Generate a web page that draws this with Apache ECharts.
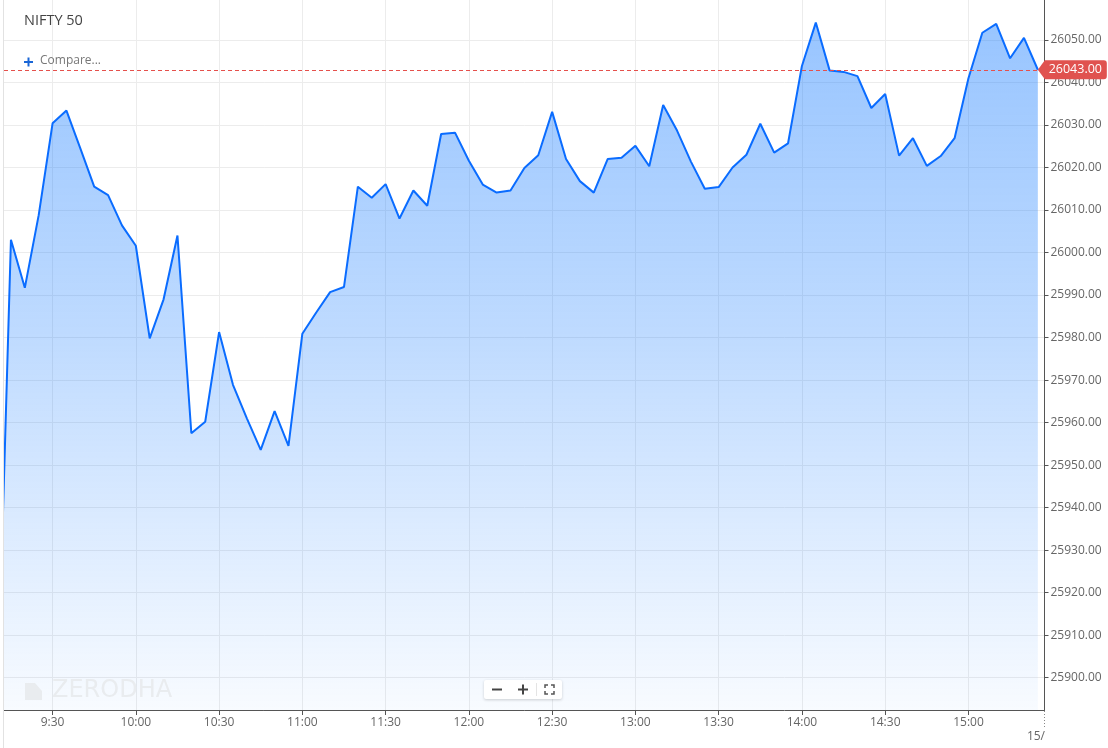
<!DOCTYPE html>
<html><head><meta charset="utf-8">
<script src="https://cdn.jsdelivr.net/npm/echarts@6/dist/echarts.min.js"></script>
<style>html,body{margin:0;padding:0;background:#fff}#c{width:1108px;height:748px}</style>
</head><body><div id="c"></div>
<script>
// ---- data ----
const times = ['9:10','9:15','9:20','9:25','9:30','9:35','9:40','9:45','9:50','9:55',
  '10:00','10:05','10:10','10:15','10:20','10:25','10:30','10:35','10:40','10:45','10:50','10:55',
  '11:00','11:05','11:10','11:15','11:20','11:25','11:30','11:35','11:40','11:45','11:50','11:55',
  '12:00','12:05','12:10','12:15','12:20','12:25','12:30','12:35','12:40','12:45','12:50','12:55',
  '13:00','13:05','13:10','13:15','13:20','13:25','13:30','13:35','13:40','13:45','13:50','13:55',
  '14:00','14:05','14:10','14:15','14:20','14:25','14:30','14:35','14:40','14:45','14:50','14:55',
  '15:00','15:05','15:10','15:15','15:20','15:25'];
const prices = [25891.0,26003.0,25991.7,26008.8,26030.4,26033.4,26024.5,26015.5,26013.5,26006.4,
  26001.6,25979.8,25989.0,26004.0,25957.5,25960.2,25981.3,25968.9,25961.0,25953.6,25962.7,25954.5,
  25980.9,25985.9,25990.7,25991.9,26015.5,26012.9,26016.1,26008.0,26014.6,26011.0,26027.9,26028.2,
  26021.6,26016.0,26014.1,26014.6,26019.9,26022.9,26033.1,26022.0,26016.8,26014.1,26022.0,26022.3,
  26025.1,26020.3,26034.7,26028.7,26021.4,26015.0,26015.4,26020.0,26023.0,26030.3,26023.5,26025.7,
  26043.9,26054.1,26042.8,26042.5,26041.5,26034.0,26037.3,26022.8,26026.9,26020.4,26022.7,26026.9,
  26041.0,26051.7,26053.8,26045.7,26050.5,26043.0];
const xTickLabels = ['9:30','10:00','10:30','11:00','11:30','12:00','12:30','13:00','13:30','14:00','14:30','15:00'];
const yTickValues = [25900,25910,25920,25930,25940,25950,25960,25970,25980,25990,26000,26010,26020,26030,26040,26050];
const lastPrice = 26043.00;
const lastTime = '15:25';
const title = 'NIFTY 50';

// ---- build ----
const toMin = s => { const p = s.split(':').map(Number); return p[0]*60 + p[1]; };
const fmt = m => Math.floor(m/60) + ':' + String(m%60).padStart(2,'0');
const data = times.map((t,i) => [toMin(t), prices[i]]);
const xTicks = xTickLabels.map(toMin);
const FONT = 'Open Sans';

const chart = echarts.init(document.getElementById('c'), null, {renderer:'canvas'});
chart.setOption({
  animation:false,
  grid:{left:4, right:63.5, top:0, bottom:38},
  xAxis:{
    type:'value', min:552.5, max:927.4,
    axisLine:{lineStyle:{color:'#555', width:1}},
    axisTick:{show:true, customValues:xTicks, length:5, lineStyle:{color:'#555'}},
    axisLabel:{customValues:xTicks, formatter:fmt, color:'#666', fontSize:12, fontFamily:FONT, margin:7},
    splitLine:{show:true, lineStyle:{color:'#ececec', width:1}}
  },
  yAxis:{
    type:'value', position:'right', min:25892.39, max:26059.41, scale:true,
    axisLine:{show:true, lineStyle:{color:'#555', width:1}},
    axisTick:{show:true, customValues:yTickValues, length:4, lineStyle:{color:'#555'}},
    axisLabel:{customValues:yTickValues, formatter:v => v.toFixed(2), color:'#666', fontSize:12, fontFamily:FONT, margin:6},
    splitLine:{show:true, lineStyle:{color:'#ececec', width:1}}
  },
  series:[{
    type:'line', data:data, symbol:'none', clip:true, silent:true,
    lineStyle:{color:'#0a6cff', width:2},
    areaStyle:{color:new echarts.graphic.LinearGradient(0,0,0,1,[
      {offset:0, color:'rgba(25,125,255,0.64)'},
      {offset:0.45, color:'rgba(25,125,255,0.40)'},
      {offset:1, color:'rgba(25,125,255,0.04)'}
    ])},
    markLine:{
      silent:true, symbol:['none','none'], animation:false,
      label:{show:false},
      lineStyle:{color:'#e5504c', type:[4,3], width:1},
      data:[{yAxis:lastPrice}]
    },
    markPoint:{
      silent:true, animation:false,
      symbol:'path://M0,9 L7,0 L66,0 Q69,0 69,3 L69,15 Q69,18 66,18 L7,18 Z',
      symbolSize:[69,19], symbolKeepAspect:false, symbolOffset:['50%',0],
      itemStyle:{color:'#e0524f'},
      label:{show:true, position:'inside', offset:[3,0], formatter:lastPrice.toFixed(2),
        color:'#fff', fontSize:12.5, fontFamily:FONT},
      data:[{coord:[toMin(lastTime), lastPrice]}]
    }
  }],
  graphic:[
    {type:'line', shape:{x1:3.5,y1:0,x2:3.5,y2:748}, style:{stroke:'#e2e2e2', lineWidth:1}, z:10},
    {type:'text', left:24, top:13.5, style:{text:title, fill:'#444', fontSize:14.5, fontFamily:FONT}, z:10},
    {type:'line', shape:{x1:24,y1:62,x2:33,y2:62}, style:{stroke:'#1a66d6', lineWidth:2}, z:10},
    {type:'line', shape:{x1:28.5,y1:57.5,x2:28.5,y2:66.5}, style:{stroke:'#1a66d6', lineWidth:2}, z:10},
    {type:'text', left:40, top:55, style:{text:'Compare...', fill:'#777', fontSize:12, fontFamily:FONT}, z:10},
    // watermark
    {type:'polygon', shape:{points:[[25,683],[35,683],[42,691],[42,700],[25,700]]}, style:{fill:'#e9ecef'}, z:10},
    {type:'text', left:52, top:679, style:{text:'ZERODHA', fill:'#e9ecef', fontSize:24, fontFamily:'DejaVu Sans'}, z:10},
    // zoom controls
    {type:'rect', shape:{x:484,y:680,width:78,height:19,r:2}, style:{fill:'#fff', shadowBlur:3, shadowColor:'rgba(0,0,0,0.18)', shadowOffsetY:1}, z:11},
    {type:'line', shape:{x1:492,y1:689.5,x2:502,y2:689.5}, style:{stroke:'#444', lineWidth:2}, z:12},
    {type:'line', shape:{x1:518,y1:689.5,x2:528,y2:689.5}, style:{stroke:'#444', lineWidth:2}, z:12},
    {type:'line', shape:{x1:523,y1:684.5,x2:523,y2:694.5}, style:{stroke:'#444', lineWidth:2}, z:12},
    {type:'line', shape:{x1:536.5,y1:683,x2:536.5,y2:696}, style:{stroke:'#e4e4e4', lineWidth:1}, z:12},
    {type:'polyline', shape:{points:[[545,688],[545,685],[548,685]]}, style:{stroke:'#555', lineWidth:1.5, fill:null}, z:12},
    {type:'polyline', shape:{points:[[551,685],[554,685],[554,688]]}, style:{stroke:'#555', lineWidth:1.5, fill:null}, z:12},
    {type:'polyline', shape:{points:[[545,691],[545,694],[548,694]]}, style:{stroke:'#555', lineWidth:1.5, fill:null}, z:12},
    {type:'polyline', shape:{points:[[551,694],[554,694],[554,691]]}, style:{stroke:'#555', lineWidth:1.5, fill:null}, z:12},
    // date separator
    {type:'line', shape:{x1:1044.5,y1:711,x2:1044.5,y2:727}, style:{stroke:'#888', lineWidth:1, lineDash:[1,2]}, z:10},
    {type:'text', right:63, top:731, style:{text:'15/', fill:'#666', fontSize:12, fontFamily:FONT}, z:10}
  ]
});
</script></body></html>
